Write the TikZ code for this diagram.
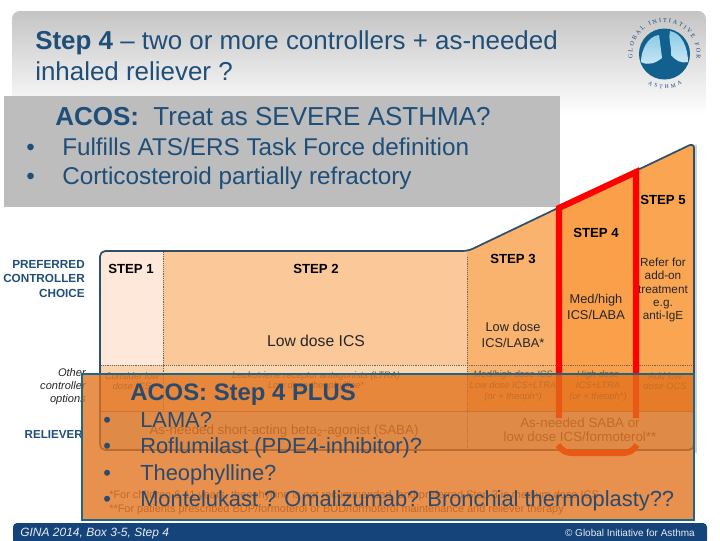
\documentclass[tikz,border=0pt]{standalone}
\usepackage{fontspec}
\setmainfont{Liberation Sans}
\newfontfamily\logoserif{Liberation Serif}
\usetikzlibrary{decorations.text, positioning}
\definecolor{ginaNavy}{HTML}{15447A}
\definecolor{ginaText}{HTML}{1F4E79}
\definecolor{ginaSlate}{HTML}{2A4A6E}
\definecolor{ginaEdge}{HTML}{1D6685}
\definecolor{ginaOutline}{HTML}{2F4F6B}
\definecolor{ginaGrey}{HTML}{BDBDBD}
\definecolor{stepOne}{HTML}{FDE8D9}
\definecolor{stepTwo}{HTML}{FBC999}
\definecolor{stepThree}{HTML}{F9B36F}
\definecolor{stepFour}{HTML}{FAA04B}
\definecolor{stepFive}{HTML}{FAA552}
\definecolor{rowOne}{HTML}{FAD2AB}
\definecolor{rowTwo}{HTML}{FCD6AF}
\definecolor{rowRel}{HTML}{DCE6EA}
\definecolor{veilOrange}{HTML}{E2721D}
\definecolor{lungLight}{HTML}{8CCBE6}
\tikzset{
  x=0.75pt, y=-0.75pt,
  every node/.style = {inner sep=0pt},
  headtxt/.style   = {anchor=base west, text=ginaText, font=\fontsize{19.45}{19.45}\selectfont},
  greytxt/.style   = {anchor=base west, text=ginaText, font=\fontsize{18.2}{18.2}\selectfont},
  steplbl/.style   = {font=\fontsize{9.9}{9.9}\selectfont\bfseries, text=black},
  druglbl/.style   = {align=center, text=black!85, font=\fontsize{9.6}{11.8}\selectfont},
  rowlbl/.style    = {align=center, text=black!65, font=\fontsize{7}{8}\selectfont\itshape},
  relieflbl/.style = {align=center, text=black!70, font=\fontsize{10}{10.5}\selectfont},
  notelbl/.style   = {anchor=base west, text=black!70, font=\fontsize{8.2}{8.2}\selectfont},
  sidelbl/.style   = {align=right, anchor=north east, text=ginaText, font=\fontsize{8.8}{10.9}\selectfont\bfseries},
  veiltxt/.style   = {anchor=base west, text=ginaSlate, font=\fontsize{16.4}{16.4}\selectfont},
  footlbl/.style   = {anchor=base, text=white!90!ginaNavy},
  redline/.style   = {red, line width=4.6pt},
}
\begin{document}
\begin{tikzpicture}
  \useasboundingbox (0,0) rectangle (720,540);

  % header band
  \shade[top color=black!23, bottom color=white, rounded corners=6pt] (12,11) rectangle (706,115);
  \node[headtxt] (title1) at (35,49) {\textbf{Step 4} – two or more controllers + as-needed};
  \node[headtxt] (title2) at (35,80) {inhaled reliever ?};

  % logo
  \fill[ginaNavy!85!cyan] (664.5,54) circle (25.5);
  \shade[top color=lungLight, bottom color=lungLight!45!white] (659,35) .. controls (648,36) and (641,50) .. (641,62) .. controls (648,66) and (656,63) .. (662,58) .. controls (661,50) and (660,42) .. (659,35) -- cycle;
  \shade[top color=lungLight, bottom color=lungLight!45!white] (670,31) .. controls (682,33) and (688,48) .. (688,62) .. controls (681,64) and (675,60) .. (671,55) .. controls (672,47) and (668,40) .. (670,31) -- cycle;
  \path[decorate, decoration={text along path, text align=fit to path, text={|\logoserif\fontsize{4.6}{4.6}\selectfont\color{ginaNavy}|GLOBAL INITIATIVE FOR}}]
    (632.8,58.5) arc[start angle=172, end angle=368, radius=32];
  \path[decorate, decoration={text along path, text align=fit to path, reverse path, text={|\logoserif\fontsize{4.2}{4.2}\selectfont\color{ginaNavy}|ASTHMA}}]
    (682,84) arc[start angle=60, end angle=120, radius=34];

  % grey panel
  \fill[ginaGrey] (4,96) rectangle (560,207);
  \node[greytxt, font=\fontsize{19.5}{19.5}\selectfont] (acos) at (55,125) {\textbf{ACOS:}\ \ Treat as SEVERE ASTHMA?};
  \node[greytxt] (dotA) at (26,155) {•};
  \node[greytxt] (dotB) at (26,184) {•};
  \node[greytxt] (fulfil) at (62,155) {Fulfills ATS/ERS Task Force definition};
  \node[greytxt] (partial) at (62,184) {Corticosteroid partially refractory};

  % staircase
  \fill[black!18] (694,145) -- (697,145) -- (697,453) -- (694,453) -- cycle;
  \begin{scope}
    \clip[rounded corners=4pt] (100,251) -- (468,251) -- (694,143) -- (694,450) -- (100,450) -- cycle;
    \fill[stepOne] (100,143) rectangle (163,365);
    \fill[stepTwo] (163,143) rectangle (467,365);
    \fill[stepThree] (467,143) rectangle (560,411);
    \fill[stepFour] (560,143) rectangle (637,411);
    \fill[stepFive] (637,143) rectangle (694,411);
    \fill[rowOne] (100,365) rectangle (163,411);
    \fill[rowTwo] (163,365) rectangle (467,411);
    \fill[rowRel] (100,411) rectangle (694,450);
  \end{scope}
  \draw[black!60, densely dotted] (163,252) -- (163,411);
  \draw[black!60, densely dotted] (467,257) -- (467,449);
  \draw[black!60, densely dotted] (101,365) -- (693,365);
  \draw[black!50] (101,411) -- (693,411);
  \draw[ginaOutline, line width=1.3pt, rounded corners=4pt] (100,450) -- (100,251) -- (468,251) -- (694,143) -- (694,450) -- cycle;

  \node[steplbl] (step1) at (131,269) {STEP 1};
  \node[steplbl] (step2) at (316,269) {STEP 2};
  \node[steplbl] (step3) at (513,259) {STEP 3};
  \node[steplbl] (step4) at (596,233) {STEP 4};
  \node[steplbl] (step5) at (663,200) {STEP 5};
  \node[druglbl, font=\fontsize{11.8}{11.8}\selectfont] (lowics) at (316,341) {Low dose ICS};
  \node[druglbl] (lowlaba) at (513,335) {Low dose\\ICS/LABA*};
  \node[druglbl] (medlaba) at (596,307) {Med/high\\ICS/LABA};
  \node[druglbl, font=\fontsize{8.8}{10}\selectfont] (refer) at (663,290) {Refer for\\add-on\\treatment\\e.g.\\anti-IgE};

  \node[rowlbl] (other1) at (132,381) {Consider low\\dose ICS};
  \node[rowlbl] (other2) at (316,381) {Leukotriene receptor antagonists (LTRA)\\Low dose theophylline*};
  \node[rowlbl] (other3) at (513,386) {Med/high dose ICS\\Low dose ICS+LTRA\\(or + theoph*)};
  \node[rowlbl] (other4) at (598,386) {High dose\\ICS+LTRA\\(or + theoph*)};
  \node[rowlbl] (other5) at (665,381) {Add low\\dose OCS};
  \node[relieflbl] (saba) at (284,431) {As-needed short-acting beta\textsubscript{2}-agonist (SABA)};
  \node[relieflbl] (sabaform) at (580,430) {As-needed SABA or\\low dose ICS/formoterol**};
  \node[notelbl] (note1) at (109,498) {*For children 6-11 years, theophylline is not recommended, and preferred Step 3 is medium dose ICS};
  \node[notelbl] (note2) at (109,512) {**For patients prescribed BDP/formoterol or BUD/formoterol maintenance and reliever therapy};

  % side labels
  \node[sidelbl] (preferred) at (85,260) {PREFERRED\\CONTROLLER\\CHOICE};
  \node[sidelbl, font=\fontsize{8.3}{9.75}\selectfont\itshape, text=black!85] (other) at (86,368) {Other\\controller\\options};
  \node[sidelbl, anchor=base east, font=\fontsize{8.7}{9}\selectfont\bfseries] (reliever) at (83,438) {RELIEVER};

  % red frame
  \draw[redline, line join=miter] (559,418) -- (559,208) -- (636,172) -- (636,418);
  \draw[redline] (558,445) .. controls (562,451) and (566,453) .. (574,453) -- (621,453) .. controls (629,453) and (633,451) .. (637,445);

  % overlay panel
  \fill[veilOrange, opacity=0.79] (82,374) rectangle (693,520);
  \draw[ginaEdge, line width=2.2pt] (82,520) -- (82,374) -- (694,374) -- (694,520) -- cycle;
  \node[veiltxt, font=\fontsize{17.9}{17.9}\selectfont\bfseries] (plus) at (130,400) {ACOS: Step 4 PLUS};
  \node[veiltxt] (dot1) at (103,427) {•};
  \node[veiltxt] (dot2) at (103,453) {•};
  \node[veiltxt] (dot3) at (103,480) {•};
  \node[veiltxt] (dot4) at (103,506) {•};
  \node[veiltxt] (lama) at (140,427) {LAMA?};
  \node[veiltxt] (roflu) at (140,453) {Roflumilast (PDE4-inhibitor)?};
  \node[veiltxt] (theo) at (140,480) {Theophylline?};
  \node[veiltxt] (monte) at (140,506) {Montelukast ? Omalizumab? Bronchial thermoplasty??};

  % footer
  \fill[ginaNavy, rounded corners=3pt] (13,544) -- (13,523) -- (707,523) -- (707,544) -- cycle;
  \node[footlbl, anchor=base west, font=\fontsize{9}{9}\selectfont\itshape] (source) at (20,536) {GINA 2014, Box 3-5, Step 4};
  \node[footlbl, anchor=base east, font=\fontsize{7.5}{7.5}\selectfont] (copyright) at (695,536) {© Global Initiative for Asthma};
\end{tikzpicture}
\end{document}
